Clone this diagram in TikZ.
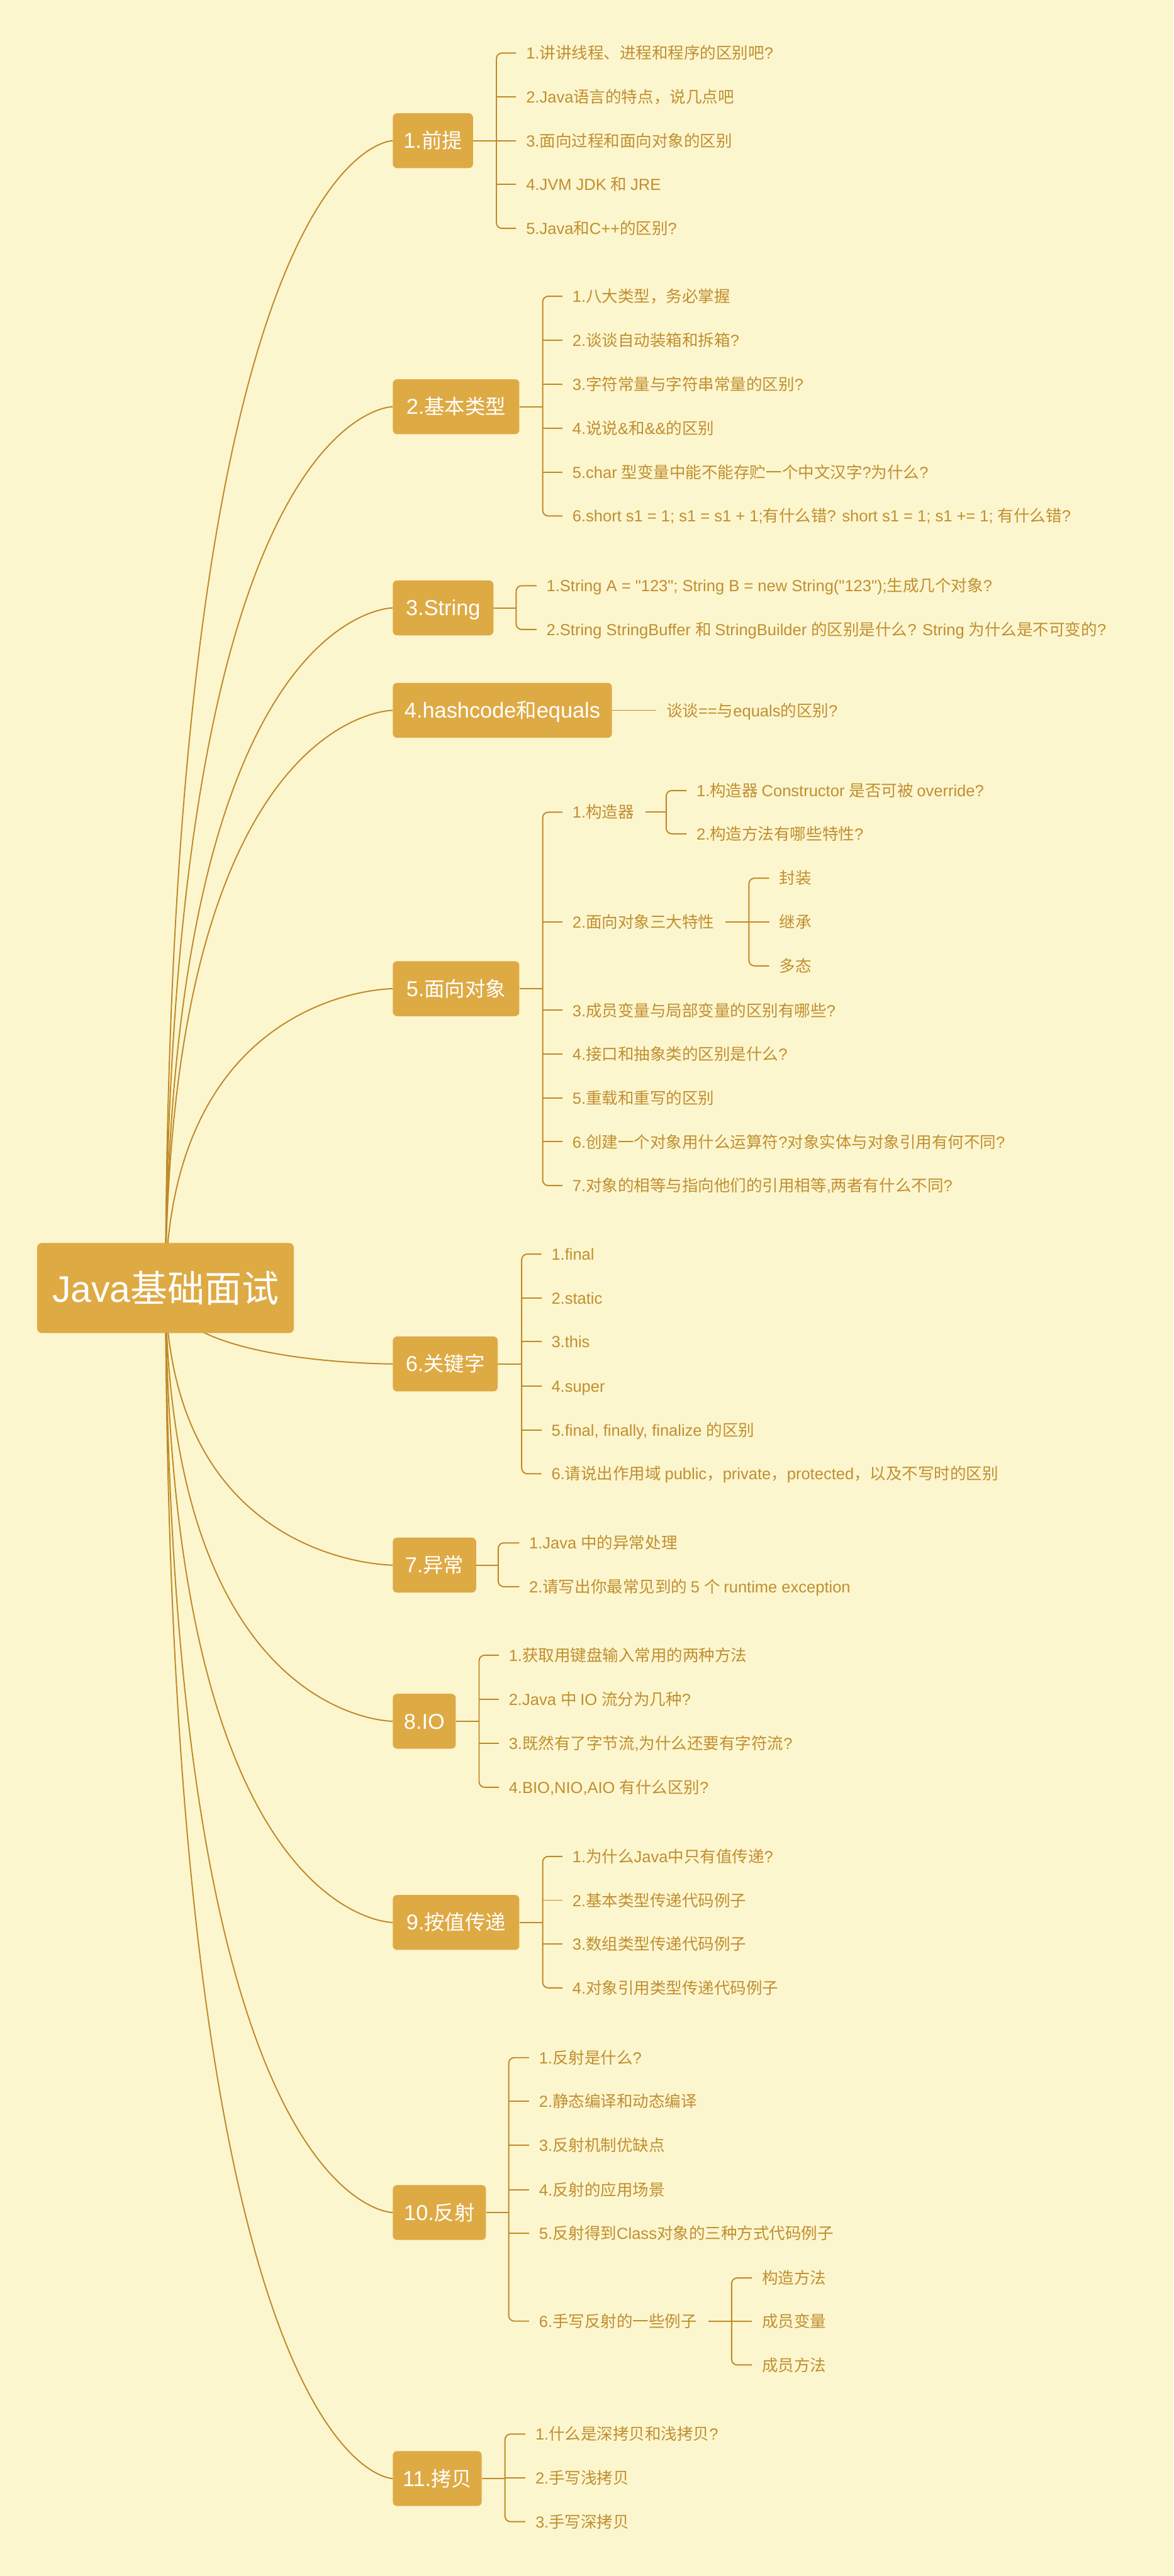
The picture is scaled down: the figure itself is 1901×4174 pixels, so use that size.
\documentclass[tikz,border=0pt]{standalone}
\usepackage{fontspec}
\setmainfont{Liberation Sans}[Ligatures=TeXOff]
\newfontfamily\latf{Liberation Sans}[Ligatures=TeXOff]
\newfontfamily\latfT{Liberation Sans}[Ligatures=TeXOff, Scale=1.06]
\newfontfamily\cjkf{Noto Sans CJK SC}
% automatic switch between Latin and CJK fonts
\XeTeXinterchartokenstate=1
\newXeTeXintercharclass\CJKcls
\newcount\mmc
\mmc="21 \loop\ifnum\mmc<"7F \XeTeXcharclass\mmc=0 \advance\mmc by 1 \repeat
\mmc="3000 \loop\ifnum\mmc<"3040 \XeTeXcharclass\mmc=\CJKcls \advance\mmc by 1 \repeat
\mmc="4E00 \loop\ifnum\mmc<"A000 \XeTeXcharclass\mmc=\CJKcls \advance\mmc by 1 \repeat
\mmc="FF00 \loop\ifnum\mmc<"FFF0 \XeTeXcharclass\mmc=\CJKcls \advance\mmc by 1 \repeat
\XeTeXinterchartoks 0 \CJKcls = {\cjkf}
\XeTeXinterchartoks 4095 \CJKcls = {\cjkf}
\XeTeXinterchartoks \CJKcls 0 = {\latf}
\XeTeXinterchartoks 4095 0 = {\latf}
\usetikzlibrary{calc}
\definecolor{bgc}{HTML}{FCF6CF}
\definecolor{boxc}{HTML}{DEAA44}
\definecolor{linec}{HTML}{BF8A28}
\definecolor{txtc}{HTML}{C08F2F}
\pgfdeclarelayer{bg}
\pgfdeclarelayer{edges}
\pgfsetlayers{bg,edges,main}
\newcommand\mmbracket[3]{\draw[br, rounded corners=9pt] ([xshift=-16pt]#2.west) -- (#1 |- #2.west) -- (#1 |- #3.west) -- ([xshift=-16pt]#3.west);}
\newcommand\mmstub[2]{\draw[br] (#1 |- #2.west) -- ([xshift=-16pt]#2.west);}
\newcommand\mmjoin[2]{\draw[br] (#2.east) -- (#1 |- #2.east);}
\newcommand\rootlink[1]{\draw[rl] (root.center) .. controls (rc |- #1.west) and (#1.west) .. (#1.west);}
\begin{document}
\begin{tikzpicture}[x=1pt,y=-1pt,
  rootbox/.style={fill=boxc, text=white, rounded corners=8pt, minimum width=416pt, minimum height=146pt, inner sep=0pt, font=\fontsize{60pt}{72pt}\selectfont, text height=45pt, text depth=0pt},
  topic/.style={fill=boxc, text=white, rounded corners=7pt, minimum height=89pt, inner xsep=16pt, inner ysep=0pt, anchor=west, font=\fontsize{33pt}{40pt}\selectfont\let\latf\latfT, text height=24.75pt, text depth=0pt},
  leaf/.style={text=txtc, inner sep=0pt, anchor=west, font=\fontsize{26pt}{31pt}\selectfont, text height=19.5pt, text depth=0pt},
  br/.style={draw=linec, line width=2pt},
  rl/.style={draw=linec, line width=2pt}]
\useasboundingbox (0,0) rectangle (1901,4174);
\begin{pgfonlayer}{bg}
\fill[bgc] (0,0) rectangle (1901,4174);
\end{pgfonlayer}

% root
\node[rootbox] (root) at (268,2087) {Java基础面试};
\coordinate (rc) at ([xshift=6pt]root.center);

% topics
\node[topic, minimum width=130pt] (t1) at (636,228) {1.前提};
\node[topic, minimum width=205pt] (t2) at (636,659) {2.基本类型};
\node[topic, minimum width=163pt] (t3) at (636,985) {3.String};
\node[topic, minimum width=355pt] (t4) at (636,1151) {4.hashcode和equals};
\node[topic, minimum width=205pt] (t5) at (636,1602) {5.面向对象};
\node[topic, minimum width=170pt] (t6) at (636,2210) {6.关键字};
\node[topic, minimum width=135pt] (t7) at (636,2536) {7.异常};
\node[topic, minimum width=102pt] (t8) at (636,2789) {8.IO};
\node[topic, minimum width=205pt] (t9) at (636,3115) {9.按值传递};
\node[topic, minimum width=151pt] (t10) at (636,3585) {10.反射};
\node[topic, minimum width=142pt] (t11) at (636,4016) {11.拷贝};

% 1
\coordinate (k1) at (804,228);
\node[leaf] (c11) at (852,86) {1.讲讲线程、进程和程序的区别吧?};
\node[leaf] (c12) at (852,157) {2.Java语言的特点，说几点吧};
\node[leaf] (c13) at (852,228) {3.面向过程和面向对象的区别};
\node[leaf] (c14) at (852,299) {4.JVM JDK 和 JRE};
\node[leaf] (c15) at (852,370) {5.Java和C++的区别?};
% 2
\coordinate (k2) at (879,659);
\node[leaf] (c21) at (927,480) {1.八大类型，务必掌握};
\node[leaf] (c22) at (927,551) {2.谈谈自动装箱和拆箱?};
\node[leaf] (c23) at (927,623) {3.字符常量与字符串常量的区别?};
\node[leaf] (c24) at (927,694) {4.说说\&和\&\&的区别};
\node[leaf] (c25) at (927,765) {5.char 型变量中能不能存贮一个中文汉字?为什么?};
\node[leaf] (c26) at (927,836) {6.short s1 = 1; s1 = s1 + 1;有什么错? short s1 = 1; s1 += 1; 有什么错?};
% 3
\coordinate (k3) at (836,985);
\node[leaf] (c31) at (885,949) {1.String A = "123"; String B = new String("123");生成几个对象?};
\node[leaf] (c32) at (885,1020) {2.String StringBuffer 和 StringBuilder 的区别是什么? String 为什么是不可变的?};
% 4
\node[leaf] (c41) at (1079,1151) {谈谈==与equals的区别?};
% 5
\coordinate (k5) at (879,1602);
\node[leaf] (c51) at (927,1316) {1.构造器};
\node[leaf] (c52) at (927,1494) {2.面向对象三大特性};
\node[leaf] (c53) at (927,1637) {3.成员变量与局部变量的区别有哪些?};
\node[leaf] (c54) at (927,1708) {4.接口和抽象类的区别是什么?};
\node[leaf] (c55) at (927,1779) {5.重载和重写的区别};
\node[leaf] (c56) at (927,1850) {6.创建一个对象用什么运算符?对象实体与对象引用有何不同?};
\node[leaf] (c57) at (927,1921) {7.对象的相等与指向他们的引用相等,两者有什么不同?};
\coordinate (k51) at (1079,1316);
\node[leaf] (c511) at (1128,1281) {1.构造器 Constructor 是否可被 override?};
\node[leaf] (c512) at (1128,1351) {2.构造方法有哪些特性?};
\coordinate (k52) at (1213,1494);
\node[leaf] (c521) at (1262,1423) {封装};
\node[leaf] (c522) at (1262,1494) {继承};
\node[leaf] (c523) at (1262,1565) {多态};
% 6
\coordinate (k6) at (845,2210);
\node[leaf] (c61) at (893,2032) {1.final};
\node[leaf] (c62) at (893,2103) {2.static};
\node[leaf] (c63) at (893,2174) {3.this};
\node[leaf] (c64) at (893,2246) {4.super};
\node[leaf] (c65) at (893,2317) {5.final, finally, finalize 的区别};
\node[leaf] (c66) at (893,2388) {6.请说出作用域 public，private，protected，以及不写时的区别};
% 7
\coordinate (k7) at (807,2536);
\node[leaf] (c71) at (857,2500) {1.Java 中的异常处理};
\node[leaf] (c72) at (857,2571) {2.请写出你最常见到的 5 个 runtime exception};
% 8
\coordinate (k8) at (776,2789);
\node[leaf] (c81) at (824,2682) {1.获取用键盘输入常用的两种方法};
\node[leaf] (c82) at (824,2753) {2.Java 中 IO 流分为几种?};
\node[leaf] (c83) at (824,2825) {3.既然有了字节流,为什么还要有字符流?};
\node[leaf] (c84) at (824,2896) {4.BIO,NIO,AIO 有什么区别?};
% 9
\coordinate (k9) at (879,3115);
\node[leaf] (c91) at (927,3008) {1.为什么Java中只有值传递?};
\node[leaf] (c92) at (927,3079) {2.基本类型传递代码例子};
\node[leaf] (c93) at (927,3150) {3.数组类型传递代码例子};
\node[leaf] (c94) at (927,3221) {4.对象引用类型传递代码例子};
% 10
\coordinate (k10) at (824,3585);
\node[leaf] (c101) at (873,3334) {1.反射是什么?};
\node[leaf] (c102) at (873,3405) {2.静态编译和动态编译};
\node[leaf] (c103) at (873,3476) {3.反射机制优缺点};
\node[leaf] (c104) at (873,3548) {4.反射的应用场景};
\node[leaf] (c105) at (873,3619) {5.反射得到Class对象的三种方式代码例子};
\node[leaf] (c106) at (873,3761) {6.手写反射的一些例子};
\coordinate (k106) at (1185,3761);
\node[leaf] (c1061) at (1234,3691) {构造方法};
\node[leaf] (c1062) at (1234,3761) {成员变量};
\node[leaf] (c1063) at (1234,3832) {成员方法};
% 11
\coordinate (k11) at (818,4016);
\node[leaf] (c111) at (867,3944) {1.什么是深拷贝和浅拷贝?};
\node[leaf] (c112) at (867,4015) {2.手写浅拷贝};
\node[leaf] (c113) at (867,4086) {3.手写深拷贝};

\begin{pgfonlayer}{edges}
% root links
\foreach \t in {t1,t2,t3,t4,t5,t6,t7,t8,t9,t10,t11} {\rootlink{\t}}
% 1
\mmjoin{k1}{t1}\mmbracket{k1}{c11}{c15}
\mmstub{k1}{c12}\mmstub{k1}{c13}\mmstub{k1}{c14}
% 2
\mmjoin{k2}{t2}\mmbracket{k2}{c21}{c26}
\mmstub{k2}{c22}\mmstub{k2}{c23}\mmstub{k2}{c24}\mmstub{k2}{c25}
% 3
\mmjoin{k3}{t3}\mmbracket{k3}{c31}{c32}
% 4
\draw[br] (t4.east) -- ([xshift=-16pt]c41.west);
% 5
\mmjoin{k5}{t5}\mmbracket{k5}{c51}{c57}
\mmstub{k5}{c52}\mmstub{k5}{c53}\mmstub{k5}{c54}\mmstub{k5}{c55}\mmstub{k5}{c56}
\draw[br] ([xshift=18pt]c51.east) -- (k51 |- c51.east);
\mmbracket{k51}{c511}{c512}
\draw[br] ([xshift=18pt]c52.east) -- (k52 |- c52.east);
\mmbracket{k52}{c521}{c523}\mmstub{k52}{c522}
% 6
\mmjoin{k6}{t6}\mmbracket{k6}{c61}{c66}
\mmstub{k6}{c62}\mmstub{k6}{c63}\mmstub{k6}{c64}\mmstub{k6}{c65}
% 7
\mmjoin{k7}{t7}\mmbracket{k7}{c71}{c72}
% 8
\mmjoin{k8}{t8}\mmbracket{k8}{c81}{c84}
\mmstub{k8}{c82}\mmstub{k8}{c83}
% 9
\mmjoin{k9}{t9}\mmbracket{k9}{c91}{c94}
\mmstub{k9}{c92}\mmstub{k9}{c93}
% 10
\mmjoin{k10}{t10}\mmbracket{k10}{c101}{c106}
\mmstub{k10}{c102}\mmstub{k10}{c103}\mmstub{k10}{c104}\mmstub{k10}{c105}
\draw[br] ([xshift=18pt]c106.east) -- (k106 |- c106.east);
\mmbracket{k106}{c1061}{c1063}\mmstub{k106}{c1062}
% 11
\mmjoin{k11}{t11}\mmbracket{k11}{c111}{c113}
\mmstub{k11}{c112}
\end{pgfonlayer}
\end{tikzpicture}
\end{document}
